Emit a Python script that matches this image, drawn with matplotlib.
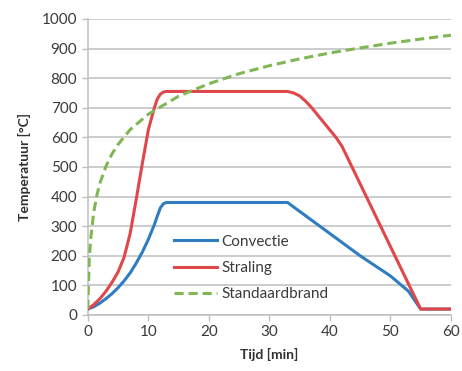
import numpy as np
import matplotlib
matplotlib.use("Agg")
import matplotlib.pyplot as plt

# values
t_conv = [0, 1, 2, 3, 4, 5, 6, 7, 8, 9, 10, 11, 11.5, 12, 12.5, 13, 33, 36, 40, 45, 50, 53, 55, 60]
T_conv = [20, 28, 40, 55, 72, 92, 115, 142, 175, 212, 255, 305, 335, 362, 376, 380, 380, 335, 275, 200, 132, 80, 20, 20]

t_stra = [0, 1, 2, 3, 4, 5, 6, 7, 8, 9, 10, 11, 11.5, 12, 12.5, 13, 33, 34, 35, 36, 37, 38, 39, 40, 41, 42, 55, 60]
T_stra = [20, 35, 55, 80, 110, 145, 195, 275, 390, 510, 625, 700, 730, 746, 753, 755, 755, 750, 740, 722, 700, 675, 650, 625, 600, 570, 20, 20]

t_std = [0, 0.25, 0.5, 1, 1.5, 2, 3, 4, 5, 7, 10, 15, 20, 25, 30, 35, 40, 45, 50, 55, 60]
T_std = [20, 195, 261, 349, 404, 445, 502, 544, 576, 626, 678, 739, 781, 815, 842, 865, 885, 902, 918, 932, 945]

x_ticks = [0, 10, 20, 30, 40, 50, 60]
y_ticks = [0, 100, 200, 300, 400, 500, 600, 700, 800, 900, 1000]

plt.rcParams['font.family'] = ['Lato', 'DejaVu Sans']

fig = plt.figure(figsize=(4.62, 3.71), dpi=100)
ax = fig.add_axes([0.19, 0.151, 0.786, 0.798])

ax.plot(t_conv, T_conv, color="#2F7DC0", lw=2.2, label="Convectie", zorder=3)
ax.plot(t_stra, T_stra, color="#E0474A", lw=2.2, label="Straling", zorder=3)
ax.plot(t_std, T_std, color="#80B654", lw=2.2, ls=(0, (3, 1.6)), label="Standaardbrand", zorder=3)

ax.set_xlim(0, 60)
ax.set_ylim(0, 1000)
ax.set_xticks(x_ticks)
ax.set_yticks(y_ticks)
ax.yaxis.grid(True, color="#BFBFBF", lw=1.1)
ax.set_axisbelow(True)
for s in ["top", "right"]:
    ax.spines[s].set_visible(False)
for s in ["left", "bottom"]:
    ax.spines[s].set_color("#BFBFBF")
    ax.spines[s].set_linewidth(1.1)
ax.tick_params(colors="#BFBFBF", labelcolor="#3A3A3A", labelsize=11, length=4, width=1)

ax.set_xlabel("Tijd [min]", fontsize=10, fontweight="bold", color="#303030", labelpad=6)
ax.set_ylabel("Temperatuur [°C]", fontsize=10, fontweight="bold", color="#303030", labelpad=8)

ax.legend(loc="lower left", bbox_to_anchor=(0.2, 0.0), frameon=False, fontsize=11,
          handlelength=2.8, handletextpad=0.3, labelspacing=0.8, labelcolor="#3A3A3A")

fig.savefig("out.png", dpi=100)
